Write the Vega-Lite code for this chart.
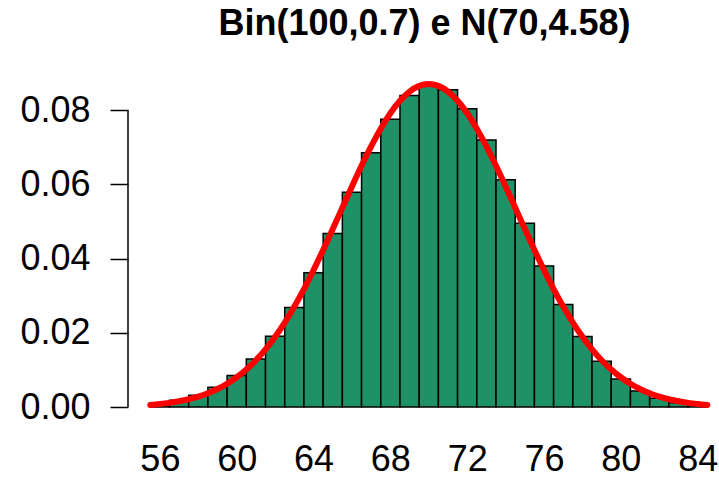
{
  "$schema": "https://vega.github.io/schema/vega-lite/v6.json",
  "autosize": {"type": "none"},
  "width": 591,
  "height": 349,
  "padding": {"left": 128, "top": 71, "right": 0, "bottom": 59},
  "background": "white",
  "config": {
    "view": {"stroke": null},
    "font": "Liberation Sans"
  },
  "title": {
    "text": "Bin(100,0.7) e N(70,4.58)",
    "font": "Liberation Sans",
    "fontSize": 36,
    "fontWeight": "bold",
    "color": "black",
    "anchor": "middle",
    "frame": "group",
    "baseline": "alphabetic",
    "offset": 0,
    "dx": 1
  },
  "datasets": {
    "bars": [
      {"lo": 55.5, "hi": 56.5, "p": 0.00103},
      {"lo": 56.5, "hi": 57.5, "p": 0.00185},
      {"lo": 57.5, "hi": 58.5, "p": 0.00321},
      {"lo": 58.5, "hi": 59.5, "p": 0.00532},
      {"lo": 59.5, "hi": 60.5, "p": 0.00849},
      {"lo": 60.5, "hi": 61.5, "p": 0.01299},
      {"lo": 61.5, "hi": 62.5, "p": 0.01907},
      {"lo": 62.5, "hi": 63.5, "p": 0.02683},
      {"lo": 63.5, "hi": 64.5, "p": 0.0362},
      {"lo": 64.5, "hi": 65.5, "p": 0.04678},
      {"lo": 65.5, "hi": 66.5, "p": 0.05788},
      {"lo": 66.5, "hi": 67.5, "p": 0.06854},
      {"lo": 67.5, "hi": 68.5, "p": 0.07761},
      {"lo": 68.5, "hi": 69.5, "p": 0.08398},
      {"lo": 69.5, "hi": 70.5, "p": 0.08678},
      {"lo": 70.5, "hi": 71.5, "p": 0.08556},
      {"lo": 71.5, "hi": 72.5, "p": 0.08041},
      {"lo": 72.5, "hi": 73.5, "p": 0.07197},
      {"lo": 73.5, "hi": 74.5, "p": 0.06127},
      {"lo": 74.5, "hi": 75.5, "p": 0.04956},
      {"lo": 75.5, "hi": 76.5, "p": 0.03804},
      {"lo": 76.5, "hi": 77.5, "p": 0.02767},
      {"lo": 77.5, "hi": 78.5, "p": 0.01903},
      {"lo": 78.5, "hi": 79.5, "p": 0.01237},
      {"lo": 79.5, "hi": 80.5, "p": 0.00758},
      {"lo": 80.5, "hi": 81.5, "p": 0.00436},
      {"lo": 81.5, "hi": 82.5, "p": 0.00236},
      {"lo": 82.5, "hi": 83.5, "p": 0.00119},
      {"lo": 83.5, "hi": 84.5, "p": 0.00056}
    ],
    "curve": [
      {"x": 55.5, "d": 0.00058},
      {"x": 56.0, "d": 0.000814},
      {"x": 56.5, "d": 0.001131},
      {"x": 57.0, "d": 0.001551},
      {"x": 57.5, "d": 0.002102},
      {"x": 58.0, "d": 0.002815},
      {"x": 58.5, "d": 0.003725},
      {"x": 59.0, "d": 0.00487},
      {"x": 59.5, "d": 0.006292},
      {"x": 60.0, "d": 0.008034},
      {"x": 60.5, "d": 0.010136},
      {"x": 61.0, "d": 0.012636},
      {"x": 61.5, "d": 0.015566},
      {"x": 62.0, "d": 0.018949},
      {"x": 62.5, "d": 0.022791},
      {"x": 63.0, "d": 0.027089},
      {"x": 63.5, "d": 0.031819},
      {"x": 64.0, "d": 0.03693},
      {"x": 64.5, "d": 0.042355},
      {"x": 65.0, "d": 0.048002},
      {"x": 65.5, "d": 0.053753},
      {"x": 66.0, "d": 0.059485},
      {"x": 66.5, "d": 0.065049},
      {"x": 67.0, "d": 0.070289},
      {"x": 67.5, "d": 0.07505},
      {"x": 68.0, "d": 0.079185},
      {"x": 68.5, "d": 0.082558},
      {"x": 69.0, "d": 0.085055},
      {"x": 69.5, "d": 0.08659},
      {"x": 70.0, "d": 0.087107},
      {"x": 70.5, "d": 0.08659},
      {"x": 71.0, "d": 0.085055},
      {"x": 71.5, "d": 0.082558},
      {"x": 72.0, "d": 0.079185},
      {"x": 72.5, "d": 0.07505},
      {"x": 73.0, "d": 0.070289},
      {"x": 73.5, "d": 0.065049},
      {"x": 74.0, "d": 0.059485},
      {"x": 74.5, "d": 0.053753},
      {"x": 75.0, "d": 0.048002},
      {"x": 75.5, "d": 0.042355},
      {"x": 76.0, "d": 0.03693},
      {"x": 76.5, "d": 0.031819},
      {"x": 77.0, "d": 0.027089},
      {"x": 77.5, "d": 0.022791},
      {"x": 78.0, "d": 0.018949},
      {"x": 78.5, "d": 0.015566},
      {"x": 79.0, "d": 0.012636},
      {"x": 79.5, "d": 0.010136},
      {"x": 80.0, "d": 0.008034},
      {"x": 80.5, "d": 0.006292},
      {"x": 81.0, "d": 0.00487},
      {"x": 81.5, "d": 0.003725},
      {"x": 82.0, "d": 0.002815},
      {"x": 82.5, "d": 0.002102},
      {"x": 83.0, "d": 0.001551},
      {"x": 83.5, "d": 0.001131},
      {"x": 84.0, "d": 0.000814},
      {"x": 84.5, "d": 0.00058}
    ]
  },
  "layer": [
    {
      "data": {"name": "bars"},
      "mark": {"type": "rect", "fill": "#1E9167", "stroke": "black", "strokeWidth": 1.5},
      "encoding": {
        "x": {
          "field": "lo", "type": "quantitative",
          "scale": {"domain": [54.34, 85.11], "nice": false, "zero": false},
          "axis": {
            "title": null, "domain": false, "ticks": false, "tickSize": 0, "grid": false,
            "values": [56, 60, 64, 68, 72, 76, 80, 84],
            "labelFont": "Liberation Sans", "labelFontSize": 36, "labelColor": "black",
            "labelBaseline": "top", "labelPadding": 22, "labelFlush": false, "labelOverlap": false
          }
        },
        "x2": {"field": "hi"},
        "y": {
          "field": "p", "type": "quantitative",
          "scale": {"domain": [-0.003484, 0.090591], "nice": false, "zero": false},
          "axis": {
            "title": null, "domain": false, "grid": false,
            "values": [0, 0.02, 0.04, 0.06, 0.08], "format": ".2f",
            "tickSize": 18, "tickWidth": 1.5, "tickColor": "black",
            "labelFont": "Liberation Sans", "labelFontSize": 36, "labelColor": "black",
            "labelPadding": 20, "labelFlush": false, "labelOverlap": false
          }
        },
        "y2": {"datum": 0}
      }
    },
    {
      "data": {"values": [{}]},
      "mark": {"type": "rule", "stroke": "black", "strokeWidth": 1.5},
      "encoding": {
        "x": {"datum": 54.34, "type": "quantitative"},
        "y": {"datum": 0, "type": "quantitative"},
        "y2": {"datum": 0.08}
      }
    },
    {
      "data": {"name": "curve"},
      "mark": {"type": "line", "stroke": "#FF0000", "strokeWidth": 6, "strokeCap": "round", "strokeJoin": "round", "interpolate": "monotone"},
      "encoding": {
        "x": {"field": "x", "type": "quantitative"},
        "y": {"field": "d", "type": "quantitative"}
      }
    }
  ]
}
